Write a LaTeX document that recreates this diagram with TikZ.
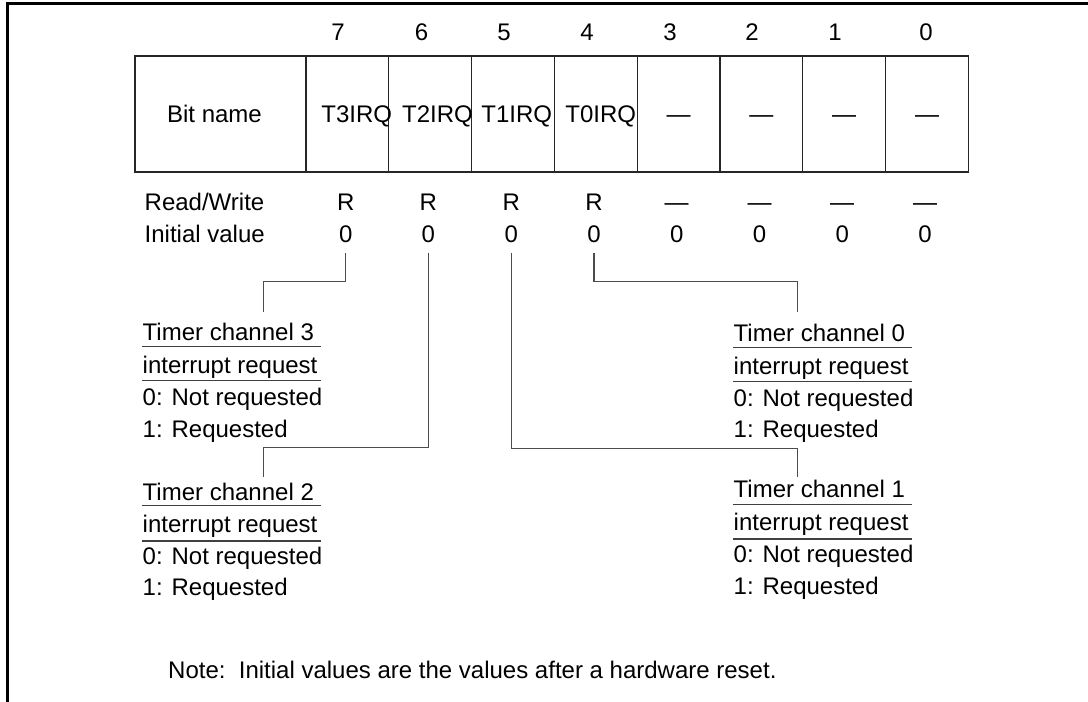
\documentclass[tikz,border=0pt]{standalone}
\usepackage{fontspec}
\setmainfont{Liberation Sans}
\begin{document}
\begin{tikzpicture}[x=0.5pt,y=-0.5pt,
  txt/.style={inner sep=0pt,font=\fontsize{12}{14}\selectfont},
  lbl/.style={txt,anchor=base west},
  ctr/.style={txt,anchor=base},
  cell/.style={draw=black!85,line width=0.6pt,minimum height=58pt,inner sep=0pt},
  conn/.style={draw=black!70,line width=0.55pt},
  rule/.style={draw=black!75,line width=0.55pt},
  frame/.style={line width=1.5pt}]
\useasboundingbox (0,0) rectangle (1088,702);
\draw[frame] (7,702) -- (7,3.5) -- (1088,3.5);

% register cells
\node[cell,minimum width=85.5pt] (cname) at (220.5,114) {};
\foreach \i/\x in {7/347.4,6/430.2,5/513,4/595.8,3/678.6,2/761.4,1/844.2,0/927}
  \node[cell,minimum width=41.4pt] (c\i) at (\x,114) {};

% bit numbers
\foreach \i/\x in {7/338,6/421.5,5/504,4/587,3/670,2/752,1/835,0/926}
  \node[ctr] (b\i) at (\x,40.7) {\i};

% bit names
\node[lbl] (lname) at (166.7,122.5) {Bit name};
\node[lbl] (n7) at (321,122.5) {T3IRQ};
\node[lbl] (n6) at (401.7,122.5) {T2IRQ};
\node[lbl] (n5) at (481,122.5) {T1IRQ};
\node[lbl] (n4) at (565,122.5) {T0IRQ};
\foreach \i/\x in {3/678.6,2/761.4,1/844.2,0/927}
  \node[ctr] (n\i) at (\x,122.5) {---};

% read/write and initial value rows
\node[lbl] (lrw) at (144.3,210) {Read/Write};
\node[lbl] (liv) at (144.3,242) {Initial value};
\foreach \i/\x in {7/345.7,6/428.4,5/511.2,4/594}
  \node[ctr] (rw\i) at (\x,210) {R};
\foreach \i/\x in {3/676.7,2/759.5,1/842.2,0/925}
  \node[ctr] (rw\i) at (\x,210) {---};
\foreach \i/\x in {7/345.7,6/428.4,5/511.2,4/594,3/676.7,2/759.5,1/842.2,0/925}
  \node[ctr] (v\i) at (\x,242) {0};

% description blocks
% channel 3
\node[lbl] (t3) at (142.3,340.7) {Timer channel 3};
\node[lbl] (i3) at (142.3,373) {interrupt request};
\node[lbl] (z3) at (142.3,405) {0: Not requested};
\node[lbl] (o3) at (142.3,437) {1: Requested};
\draw[rule] (142.3,346.5) -- (320.7,346.5);
\draw[rule] (142.3,380.5) -- (320.7,380.5);
% channel 2
\node[lbl] (t2) at (142.3,500.3) {Timer channel 2};
\node[lbl] (i2) at (142.3,532) {interrupt request};
\node[lbl] (z2) at (142.3,564) {0: Not requested};
\node[lbl] (o2) at (142.3,595.5) {1: Requested};
\draw[rule] (142.3,505.8) -- (320.7,505.8);
\draw[rule] (142.3,541) -- (320.7,541);
% channel 0
\node[lbl] (t0) at (733.3,341.5) {Timer channel 0};
\node[lbl] (i0) at (733.3,374) {interrupt request};
\node[lbl] (z0) at (733.3,406) {0: Not requested};
\node[lbl] (o0) at (733.3,437.3) {1: Requested};
\draw[rule] (733.3,347.3) -- (911.7,347.3);
\draw[rule] (733.3,381.5) -- (911.7,381.5);
% channel 1
\node[lbl] (t1) at (733.3,497) {Timer channel 1};
\node[lbl] (i1) at (733.3,530) {interrupt request};
\node[lbl] (z1) at (733.3,562) {0: Not requested};
\node[lbl] (o1) at (733.3,594) {1: Requested};
\draw[rule] (733.3,504.5) -- (911.7,504.5);
\draw[rule] (733.3,539) -- (911.7,539);

% connector ends
\coordinate (k3) at (263.3,311.7);
\coordinate (k2) at (263.5,477);
\coordinate (k0) at (797.7,311.7);
\coordinate (k1) at (797.7,477);

% connectors
\draw[conn,shorten <=5.3pt] (v7.south) |- (263.3,281.7) -- (k3);
\draw[conn,shorten <=5.3pt] (v6.south) |- (263.5,447.7) -- (k2);
\draw[conn,shorten <=5.3pt] (v5.south) |- (797.7,448.3) -- (k1);
\draw[conn,shorten <=5.3pt] (v4.south) |- (797.7,281.7) -- (k0);

% note
\node[lbl] (note) at (167.8,678.3) {Note:\ \ Initial values are the values after a hardware reset.};
\end{tikzpicture}
\end{document}
